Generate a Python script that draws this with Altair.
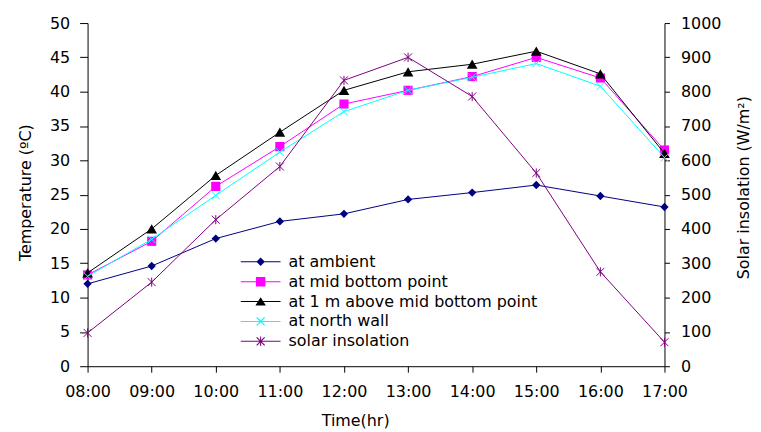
import altair as alt
import pandas as pd

# ---- data ----
times = ["08:00", "09:00", "10:00", "11:00", "12:00",
         "13:00", "14:00", "15:00", "16:00", "17:00"]
series_names = ["at ambient", "at mid bottom point",
                "at 1 m above mid bottom point", "at north wall",
                "solar insolation"]
ambient = [12.0, 14.6, 18.6, 21.1, 22.2, 24.3, 25.3, 26.4, 24.8, 23.2]
mid_bottom = [13.3, 18.2, 26.2, 32.0, 38.2, 40.2, 42.2, 45.0, 42.0, 31.5]
one_m_above = [13.6, 20.0, 27.8, 34.1, 40.2, 42.9, 44.0, 45.9, 42.6, 31.0]
north_wall = [13.1, 18.5, 24.9, 31.2, 37.1, 40.2, 42.1, 44.1, 40.8, 30.4]
solar = [97, 245, 427, 582, 833, 900, 786, 563, 275, 70]
temp_ticks = [0, 5, 10, 15, 20, 25, 30, 35, 40, 45, 50]
solar_ticks = [0, 100, 200, 300, 400, 500, 600, 700, 800, 900, 1000]

# ---- styles ----
colors = ["#000080", "#FF00FF", "#000000", "#00FFFF", "#800080"]
FONT = "DejaVu Sans"

X_PATH = "M-1,-1L1,1M1,-1L-1,1"
STAR_PATH = "M-1,-1L1,1M1,-1L-1,1M0,-1.15L0,1.15"
marker_styles = [
    dict(shape="diamond", filled=True, size=70),
    dict(shape="square", filled=True, size=85),
    dict(shape="triangle-up", filled=True, size=115),
    dict(shape=X_PATH, filled=False, size=60, strokeWidth=1),
    dict(shape=STAR_PATH, filled=False, size=64, strokeWidth=1),
]

# legend symbols: line segment + marker (filled polygons, clockwise)
LINE = "M-4,-0.1H4V0.1H-4Z"
XBARS = ("M-0.715,-0.885L0.885,0.715L0.715,0.885L-0.885,-0.715Z"
         "M0.715,-0.885L0.885,-0.715L-0.715,0.885L-0.885,0.715Z")
legend_paths = [
    LINE + "M0,-0.85L0.85,0L0,0.85L-0.85,0Z",
    LINE + "M-0.95,-0.95H0.95V0.95H-0.95Z",
    LINE + "M0,-0.85L1.05,0.8H-1.05Z",
    LINE + XBARS,
    LINE + XBARS + "M-0.1,-0.95H0.1V0.95H-0.1Z",
]

temp_values = [ambient, mid_bottom, one_m_above, north_wall]
temp_df = pd.DataFrame({
    "time": times * 4,
    "series": [n for n in series_names[:4] for _ in times],
    "value": [v for vals in temp_values for v in vals],
})
solar_df = pd.DataFrame({"time": times, "series": series_names[4], "value": solar})
legend_df = pd.DataFrame({"series": series_names})

axis_common = dict(
    labelFont=FONT, labelFontSize=16, labelColor="black",
    titleFont=FONT, titleFontSize=16, titleColor="black", titleFontWeight="normal",
    domainColor="black", tickColor="black", grid=False,
)

x_enc = alt.X(
    "time:O", sort=times,
    scale=alt.Scale(type="point", padding=0),
    axis=alt.Axis(title="Time(hr)", labelAngle=0, tickSize=6, labelPadding=11,
                  titleX=269, titleY=60, titleBaseline="alphabetic",
                  titleAlign="center", **axis_common),
)
y_temp = alt.Y(
    "value:Q", scale=alt.Scale(domain=[0, 50], nice=False, zero=True),
    axis=alt.Axis(title="Temperature (ºC)", values=temp_ticks, format="d",
                  tickSize=8, labelPadding=10, titleAngle=270,
                  titleX=-57, titleY=170, titleBaseline="alphabetic",
                  titleAlign="center", **axis_common),
)
y_solar = alt.Y(
    "value:Q", scale=alt.Scale(domain=[0, 1000], nice=False, zero=True),
    axis=alt.Axis(title="Solar insolation (W/m²)", orient="right",
                  values=solar_ticks, format="d", tickSize=5, labelPadding=11,
                  titleAngle=270, titleX=84, titleY=165,
                  titleBaseline="alphabetic", titleAlign="center",
                  **axis_common),
)


def series_layer(df, name, color, style, y_enc):
    base = alt.Chart(df).transform_filter(alt.datum.series == name)
    line = base.mark_line(color=color, strokeWidth=1).encode(x=x_enc, y=y_enc)
    pts = base.mark_point(color=color, opacity=1, **style).encode(x=x_enc, y=y_enc)
    return [line, pts]


temp_layers = []
for i in range(4):
    temp_layers += series_layer(temp_df, series_names[i], colors[i], marker_styles[i], y_temp)
temp_chart = alt.layer(*temp_layers)

solar_chart = alt.layer(*series_layer(solar_df, series_names[4], colors[4],
                                      marker_styles[4], y_solar))

leg = alt.Legend(
    title=None, orient="none", legendX=166, legendY=232, padding=0,
    labelFont=FONT, labelFontSize=16, labelColor="black", labelOffset=20,
    labelLimit=500, rowPadding=4, symbolSize=100, symbolStrokeWidth=0,
    symbolOpacity=1,
)
legend_chart = alt.Chart(legend_df).mark_point(filled=True, opacity=0).encode(
    color=alt.Color("series:N", scale=alt.Scale(domain=series_names, range=colors), legend=leg),
    shape=alt.Shape("series:N", scale=alt.Scale(domain=series_names, range=legend_paths), legend=leg),
)

chart = alt.layer(temp_chart, solar_chart, legend_chart).resolve_scale(
    y="independent"
).properties(
    width=580, height=345,
    autosize=alt.AutoSizeParams(type="none"),
    padding={"left": 80, "top": 14, "right": 89, "bottom": 65},
    background="white",
).configure_view(strokeWidth=0)

chart.save("out.html", embed_options={"renderer": "svg", "actions": False})
